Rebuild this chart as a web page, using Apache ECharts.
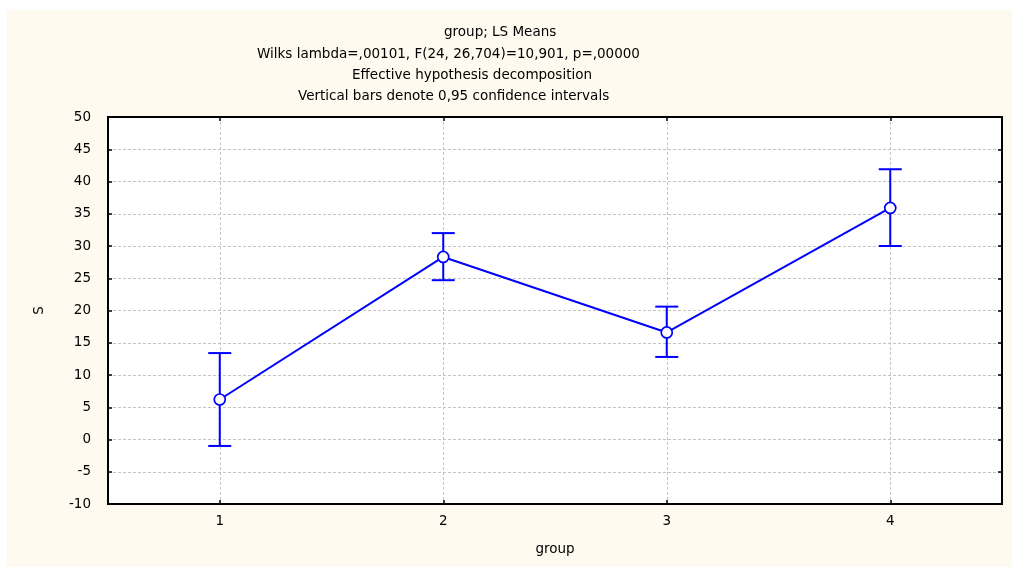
<!DOCTYPE html>
<html>
<head>
<meta charset="utf-8">
<script src="https://cdn.jsdelivr.net/npm/echarts@6/dist/echarts.min.js"></script>
<style>
  html, body { margin: 0; padding: 0; background: #ffffff; }
  #chart { width: 1012px; height: 567px; }
</style>
</head>
<body>
<div id="chart"></div>
<script>
const categories = ['1', '2', '3', '4'];
const means = [6.2, 28.3, 16.6, 35.9];
const lowerCI = [-1.0, 24.7, 12.8, 30.0];
const upperCI = [13.4, 32.0, 20.6, 41.9];
const yMin = -10, yMax = 50, yStep = 5;
const titleLines = [
  'group; LS Means',
  'Wilks lambda=,00101, F(24, 26,704)=10,901, p=,00000',
  'Effective hypothesis decomposition',
  'Vertical bars denote 0,95 confidence intervals'
];
const xName = 'group';
const yName = 'S';

const FONT = 'DejaVu Sans';
const BLUE = '#0000ff';
const chart = echarts.init(document.getElementById('chart'), null, { renderer: 'canvas' });

const errData = categories.map((c, i) => [i, lowerCI[i], upperCI[i]]);

const gridStyle = { show: true, lineStyle: { color: '#c4c4c4', type: [3, 2], width: 1 } };

// per-line placement of the header text (left edge, vertical centre)
const titleLeft = [444, 257, 352, 298];
const titleMid = [32, 54, 75, 96];
const titles = titleLines.map((t, i) => ({
  text: t,
  left: titleLeft[i],
  top: titleMid[i] - 10.5,
  padding: 0,
  textStyle: { fontFamily: FONT, fontSize: 13.5, fontWeight: 'normal', color: '#000', lineHeight: 21 }
}));

chart.setOption({
  animation: false,
  backgroundColor: 'transparent',
  graphic: [{
    type: 'rect', silent: true, z: -100,
    shape: { x: 7, y: 10, width: 1005, height: 557 },
    style: { fill: '#fffaef' }
  }],
  title: titles,
  grid: {
    left: 108, right: 10, top: 117, bottom: 63,
    show: true, backgroundColor: '#ffffff', borderColor: '#000', borderWidth: 2
  },
  xAxis: [{
    type: 'category',
    data: categories,
    boundaryGap: true,
    name: xName,
    nameLocation: 'middle',
    nameGap: 38,
    nameTextStyle: { fontFamily: FONT, fontSize: 13.5, color: '#000' },
    axisLine: { show: true, onZero: false, lineStyle: { color: '#000', width: 2 } },
    axisTick: { show: true, inside: true, alignWithLabel: true, length: 4, lineStyle: { color: '#000', width: 1.5 } },
    axisLabel: { fontFamily: FONT, fontSize: 13.5, color: '#000', margin: 10 },
    splitLine: Object.assign({ alignWithLabel: true }, gridStyle)
  }, {
    type: 'category',
    data: categories,
    position: 'top',
    boundaryGap: true,
    axisLine: { show: true, onZero: false, lineStyle: { color: '#000', width: 2 } },
    axisTick: { show: true, inside: true, alignWithLabel: true, length: 4, lineStyle: { color: '#000', width: 1.5 } },
    axisLabel: { show: false },
    splitLine: { show: false }
  }],
  yAxis: [{
    type: 'value',
    min: yMin, max: yMax, interval: yStep,
    name: yName,
    nameLocation: 'middle',
    nameGap: 62,
    nameRotate: 90,
    nameTextStyle: { fontFamily: FONT, fontSize: 13.5, color: '#000' },
    axisLine: { show: true, onZero: false, lineStyle: { color: '#000', width: 2 } },
    axisTick: { show: true, inside: true, length: 4, lineStyle: { color: '#000', width: 1.5 } },
    axisLabel: { fontFamily: FONT, fontSize: 13.5, color: '#000', margin: 17 },
    splitLine: gridStyle
  }, {
    type: 'value',
    position: 'right',
    min: yMin, max: yMax, interval: yStep,
    axisLine: { show: true, onZero: false, lineStyle: { color: '#000', width: 2 } },
    axisTick: { show: true, inside: true, length: 4, lineStyle: { color: '#000', width: 1.5 } },
    axisLabel: { show: false },
    splitLine: { show: false }
  }],
  series: [{
    type: 'custom',
    z: 2,
    xAxisIndex: 0, yAxisIndex: 0,
    data: errData,
    renderItem: function (params, api) {
      const x = api.value(0);
      const lo = api.coord([x, api.value(1)]);
      const hi = api.coord([x, api.value(2)]);
      const hw = 11.5;
      const st = { stroke: BLUE, lineWidth: 2 };
      return {
        type: 'group',
        children: [
          { type: 'line', shape: { x1: lo[0], y1: lo[1], x2: hi[0], y2: hi[1] }, style: st },
          { type: 'line', shape: { x1: lo[0] - hw, y1: lo[1], x2: lo[0] + hw, y2: lo[1] }, style: st },
          { type: 'line', shape: { x1: hi[0] - hw, y1: hi[1], x2: hi[0] + hw, y2: hi[1] }, style: st }
        ]
      };
    }
  }, {
    type: 'line',
    z: 3,
    xAxisIndex: 0, yAxisIndex: 0,
    data: means,
    symbol: 'circle',
    symbolSize: 11,
    lineStyle: { color: BLUE, width: 2 },
    itemStyle: { color: '#ffffff', borderColor: BLUE, borderWidth: 1.7 }
  }]
});
</script>
</body>
</html>
